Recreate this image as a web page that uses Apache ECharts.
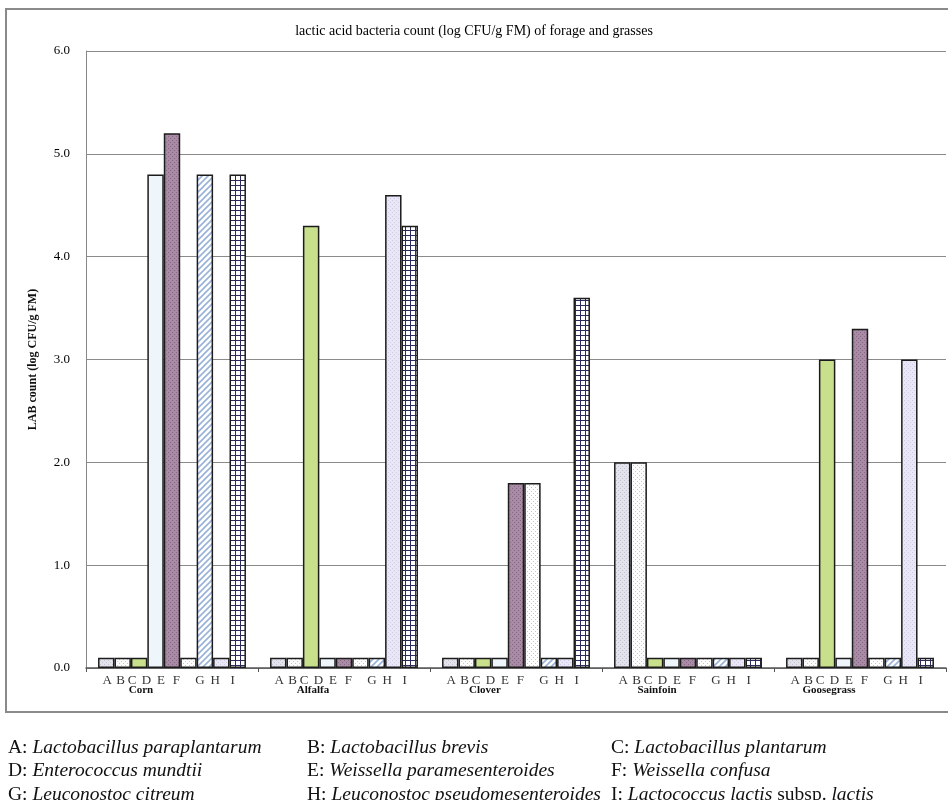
<!DOCTYPE html>
<html>
<head>
<meta charset="utf-8">
<script src="https://cdn.jsdelivr.net/npm/echarts@6/dist/echarts.min.js"></script>
<style>
  html, body { margin: 0; padding: 0; background: #fff; }
  #chart { width: 948px; height: 800px; }
</style>
</head>
<body>
<div id="chart"></div>
<script>
// data (log CFU/g FM)
const categories = ['Corn', 'Alfalfa', 'Clover', 'Sainfoin', 'Goosegrass'];
const letters = ['A', 'B', 'C', 'D', 'E', 'F', 'G', 'H', 'I'];
const speciesNames = [
  'Lactobacillus paraplantarum',
  'Lactobacillus brevis',
  'Lactobacillus plantarum',
  'Enterococcus mundtii',
  'Weissella paramesenteroides',
  'Weissella confusa',
  'Leuconostoc citreum',
  'Leuconostoc pseudomesenteroides',
  'Lactococcus lactis subsp. lactis'
];
const valA = [0.1, 0.1, 0.1, 2.0, 0.1];
const valB = [0.1, 0.1, 0.1, 2.0, 0.1];
const valC = [0.1, 4.3, 0.1, 0.1, 3.0];
const valD = [4.8, 0.1, 0.1, 0.1, 0.1];
const valE = [5.2, 0.1, 1.8, 0.1, 3.3];
const valF = [0.1, 0.1, 1.8, 0.1, 0.1];
const valG = [4.8, 0.1, 0.1, 0.1, 0.1];
const valH = [0.1, 4.6, 0.1, 0.1, 3.0];
const valI = [4.8, 4.3, 3.6, 0.1, 0.1];
const allValues = [valA, valB, valC, valD, valE, valF, valG, valH, valI];
const yTicks = [0, 1, 2, 3, 4, 5, 6];

// small canvas fills, like the excel patterns
function pattern(size, bg, draw) {
  const c = document.createElement('canvas')
  c.width = size; c.height = size
  const ctx = c.getContext('2d')
  ctx.fillStyle = bg
  ctx.fillRect(0, 0, size, size)
  if (draw) draw(ctx)
  return { image: c, repeat: 'repeat' }
}
function dots(col, pts) {
  return ctx => { ctx.fillStyle = col; pts.forEach(p => ctx.fillRect(p[0], p[1], 1, 1)) }
}
const fills = [
  pattern(4, '#e3e3eb', dots('#c2c2d0', [[0, 0], [2, 2]])),
  pattern(4, '#fbfbfb', dots('#c9c9cd', [[1, 1], [3, 3]])),
  '#c8e08c',
  '#eef6fc',
  pattern(4, '#a98ba7', dots('#86687f', [[0, 0], [2, 2]])),
  pattern(4, '#ffffff', dots('#e8b4c6', [[1, 1], [3, 3]])),
  pattern(6, '#ffffff', ctx => {
    ctx.strokeStyle = '#98b2d8'; ctx.lineWidth = 1.6
    ctx.beginPath(); ctx.moveTo(-1, 7); ctx.lineTo(7, -1); ctx.stroke()
    ctx.beginPath(); ctx.moveTo(-1, 1); ctx.lineTo(1, -1); ctx.stroke()
    ctx.beginPath(); ctx.moveTo(5, 7); ctx.lineTo(7, 5); ctx.stroke()
  }),
  pattern(4, '#e9e7f6', dots('#cfcae6', [[0, 0], [2, 2]])),
  pattern(5, '#ffffff', ctx => {
    ctx.fillStyle = '#2b2b5c'
    ctx.fillRect(0, 0, 5, 1); ctx.fillRect(0, 0, 1, 5)
  })
];
// letters under the bars sit a bit left of their bars in the original
const letterShift = [1, -2, -7, -9, -11, -12, -5, -6, -5];

const serif = '"Liberation Serif", "Times New Roman", serif';

const series = letters.map((l, i) => ({
  name: l,
  type: 'bar',
  data: allValues[i],
  barGap: '0%',
  barCategoryGap: '14%',
  itemStyle: { color: fills[i], borderColor: '#1c1c1c', borderWidth: 1.5 },
  label: {
    show: true,
    position: 'bottom',
    distance: 6,
    offset: [letterShift[i], 0],
    formatter: l,
    fontFamily: serif,
    fontSize: 13,
    color: '#333'
  },
  emphasis: { disabled: true }
}))

function legendText(name) {
  const i = letters.indexOf(name)
  const sp = speciesNames[i]
  if (sp.indexOf(' subsp. ') > 0) {
    const parts = sp.split(' subsp. ')
    return '{k|' + name + ': }{s|' + parts[0] + '}{k| subsp. }{s|' + parts[1] + '}'
  }
  return '{k|' + name + ': }{s|' + sp + '}'
}
const legendStyle = {
  fontFamily: serif,
  fontSize: 19.5,
  lineHeight: 23.5,
  color: '#111',
  rich: {
    k: { fontFamily: serif, fontSize: 19.5, lineHeight: 23.5, color: '#111' },
    s: { fontFamily: serif, fontSize: 19.5, lineHeight: 23.5, color: '#111', fontStyle: 'italic' }
  }
}
function makeLegend(left, names) {
  return {
    orient: 'vertical',
    left: left,
    top: 736,
    height: 100,
    padding: 0,
    itemGap: 0,
    itemWidth: 0,
    itemHeight: 10,
    icon: 'none',
    selectedMode: false,
    data: names,
    formatter: legendText,
    textStyle: legendStyle
  }
}

const chart = echarts.init(document.getElementById('chart'))
chart.setOption({
  backgroundColor: '#ffffff',
  animation: false,
  title: {
    text: 'lactic acid bacteria count (log CFU/g FM) of forage and grasses',
    left: 'center',
    top: 19,
    textStyle: { fontFamily: serif, fontSize: 14, fontWeight: 'normal', color: '#000' }
  },
  graphic: [{
    type: 'rect',
    shape: { x: 6, y: 9, width: 960, height: 703 },
    style: { fill: 'none', stroke: '#8a8a8a', lineWidth: 2 },
    silent: true
  }],
  legend: [
    makeLegend(3, ['A', 'D', 'G']),
    makeLegend(302, ['B', 'E', 'H']),
    makeLegend(606, ['C', 'F', 'I'])
  ],
  grid: { left: 86, right: 2, top: 51, bottom: 132 },
  xAxis: {
    type: 'category',
    data: categories,
    axisLine: { lineStyle: { color: '#555', width: 1.5 } },
    axisTick: { show: true, length: 4, lineStyle: { color: '#555' } },
    axisLabel: {
      margin: 17,
      padding: [0, 62, 0, 0],
      fontFamily: serif,
      fontSize: 11,
      fontWeight: 'bold',
      color: '#111'
    }
  },
  yAxis: {
    type: 'value',
    min: yTicks[0],
    max: yTicks[yTicks.length - 1],
    interval: 1,
    name: 'LAB count (log CFU/g FM)',
    nameLocation: 'middle',
    nameRotate: 90,
    nameGap: 47,
    nameTextStyle: { fontFamily: serif, fontSize: 12, fontWeight: 'bold', color: '#111' },
    axisLine: { show: true, lineStyle: { color: '#888' } },
    axisTick: { show: false },
    axisLabel: {
      margin: 16,
      fontFamily: serif,
      fontSize: 13,
      color: '#000',
      formatter: v => v.toFixed(1)
    },
    splitLine: { lineStyle: { color: '#8a8a8a', width: 1.2 } }
  },
  series: series
})
</script>
</body>
</html>
